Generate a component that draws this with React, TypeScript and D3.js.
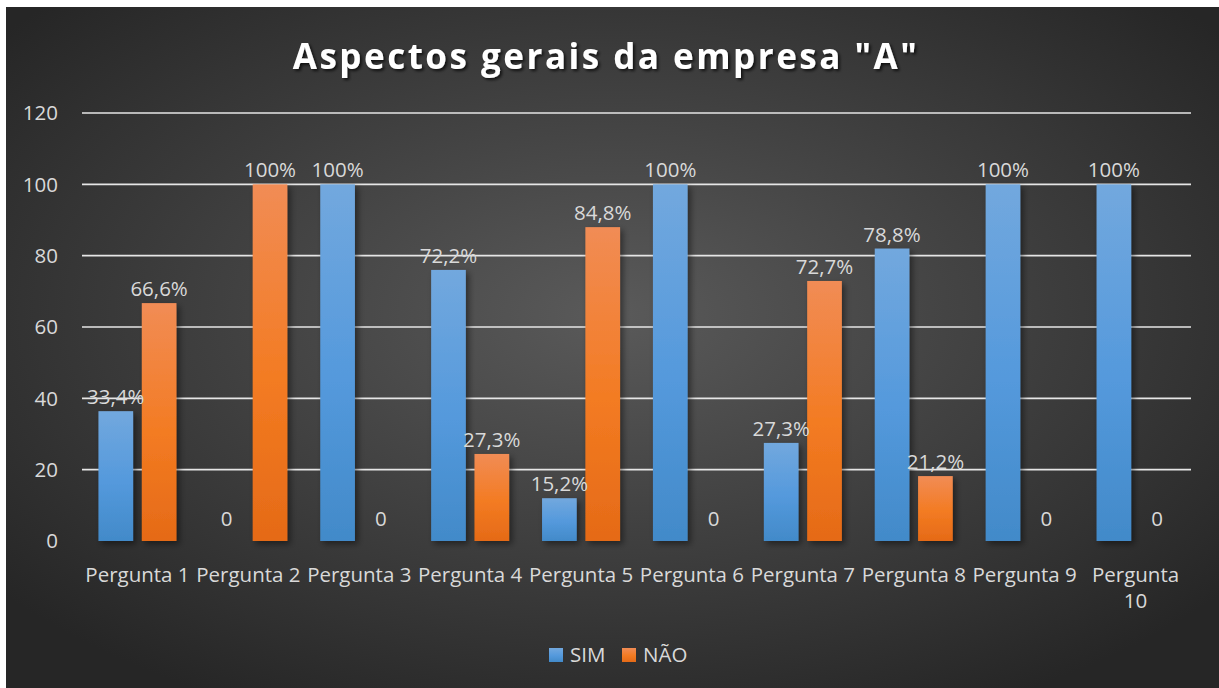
import React from "react";
import * as d3 from "d3";

const categories = ["Pergunta 1","Pergunta 2","Pergunta 3","Pergunta 4","Pergunta 5","Pergunta 6","Pergunta 7","Pergunta 8","Pergunta 9","Pergunta 10"];
const simValues = [36.4, 0, 100, 76, 12, 100, 27.5, 82, 100, 100];
const naoValues = [66.7, 100, 0, 24.4, 88, 0, 72.9, 18.2, 0, 0];
const simLabels = ["33,4%","0","100%","72,2%","15,2%","100%","27,3%","78,8%","100%","100%"];
const naoLabels = ["66,6%","100%","0","27,3%","84,8%","0","72,7%","21,2%","0","0"];
const yTicks = [0, 20, 40, 60, 80, 100, 120];
const seriesNames = ["SIM", "NÃO"];
const title = "Aspectos gerais da empresa \"A\"";

const W = 1219, H = 688;
const plot = { left: 82, right: 1191, top: 113, bottom: 541 };
const FONT = "'Open Sans', 'Noto Sans', sans-serif";
const FS = 20.5;

export default function App() {
  const y = d3.scaleLinear().domain([0, 120]).range([plot.bottom, plot.top]);
  const x = d3.scaleBand<string>().domain(categories).range([plot.left, plot.right]);
  const step = x.step();
  const groupW = 78;
  const sub = d3.scaleBand<string>().domain(seriesNames).range([0, groupW]).paddingInner(0.2);
  const series = [
    { name: "SIM", values: simValues, labels: simLabels, grad: "gSim" },
    { name: "NÃO", values: naoValues, labels: naoLabels, grad: "gNao" },
  ];
  const bandStart = (c: string) => (x(c) as number) + (step - groupW) / 2;

  return (
    <svg width={W} height={H} style={{ position: "absolute", left: 0, top: 0 }} fontFamily={FONT}>
      <defs>
        <radialGradient id="bg" cx="50%" cy="45%" r="65%">
          <stop offset="0%" stopColor="#5a5a5a" />
          <stop offset="100%" stopColor="#262626" />
        </radialGradient>
        <linearGradient id="gSim" x1="0" y1="0" x2="0" y2="1">
          <stop offset="0%" stopColor="#72a8de" />
          <stop offset="55%" stopColor="#5499dc" />
          <stop offset="100%" stopColor="#428ac9" />
        </linearGradient>
        <linearGradient id="gNao" x1="0" y1="0" x2="0" y2="1">
          <stop offset="0%" stopColor="#f18c55" />
          <stop offset="55%" stopColor="#f37b22" />
          <stop offset="100%" stopColor="#e56a17" />
        </linearGradient>
        <filter id="shadow" x="-30%" y="-10%" width="160%" height="130%">
          <feDropShadow dx="3" dy="3" stdDeviation="3" floodColor="#000" floodOpacity="0.45" />
        </filter>
        <filter id="tshadow" x="-10%" y="-30%" width="120%" height="160%">
          <feDropShadow dx="2" dy="2" stdDeviation="1.5" floodColor="#000" floodOpacity="0.7" />
        </filter>
      </defs>
      <rect x={0} y={0} width={W} height={H} fill="#ffffff" />
      <rect x={6} y={7} width={W - 6} height={H - 7} fill="url(#bg)" />

      <text x={606} y={69} textAnchor="middle" fill="#ffffff" fontSize={35} fontWeight="bold" letterSpacing={2.5} filter="url(#tshadow)">{title}</text>

      {yTicks.map(t => (
        <g key={t}>
          {t !== 0 && <line x1={plot.left} x2={plot.right} y1={y(t)} y2={y(t)} stroke="#e6e6e6" strokeWidth={1.6} />}
          <text x={58} y={y(t)} dy="0.35em" textAnchor="end" fill="#d9d9d9" fontSize={FS}>{t}</text>
        </g>
      ))}

      {series.map(s => (
        <g key={s.name}>
          {s.values.map((v, i) => {
            const bx = bandStart(categories[i]) + (sub(s.name) as number);
            const bw = sub.bandwidth();
            return v > 0 ? (
              <rect key={i} x={bx} y={y(v)} width={bw} height={y(0) - y(v)} fill={`url(#${s.grad})`} filter="url(#shadow)" />
            ) : null;
          })}
        </g>
      ))}

      <line x1={plot.left} x2={plot.right} y1={y(0)} y2={y(0)} stroke="#f2f2f2" strokeWidth={2.5} filter="url(#shadow)" />

      {series.map(s => (
        <g key={s.name + "l"}>
          {s.values.map((v, i) => {
            const cx = bandStart(categories[i]) + (sub(s.name) as number) + sub.bandwidth() / 2;
            const yy = v > 0 ? y(v) - 7 : y(0) - 15;
            return (
              <text key={i} x={cx} y={yy} textAnchor="middle" fill="#d9d9d9" fontSize={FS}>{s.labels[i]}</text>
            );
          })}
        </g>
      ))}

      {categories.map(c => {
        const cx = (x(c) as number) + step / 2;
        const parts = c === "Pergunta 10" ? ["Pergunta", "10"] : [c];
        return (
          <text key={c} x={cx} y={582} textAnchor="middle" fill="#d9d9d9" fontSize={FS}>
            {parts.map((p, k) => (
              <tspan key={k} x={cx} dy={k === 0 ? 0 : 26}>{p}</tspan>
            ))}
          </text>
        );
      })}

      <g>
        <rect x={549} y={648} width={14} height={14} fill="url(#gSim)" />
        <text x={570} y={662} fill="#d9d9d9" fontSize={FS}>{seriesNames[0]}</text>
        <rect x={622} y={648} width={14} height={14} fill="url(#gNao)" />
        <text x={643} y={662} fill="#d9d9d9" fontSize={FS}>{seriesNames[1]}</text>
      </g>
    </svg>
  );
}
